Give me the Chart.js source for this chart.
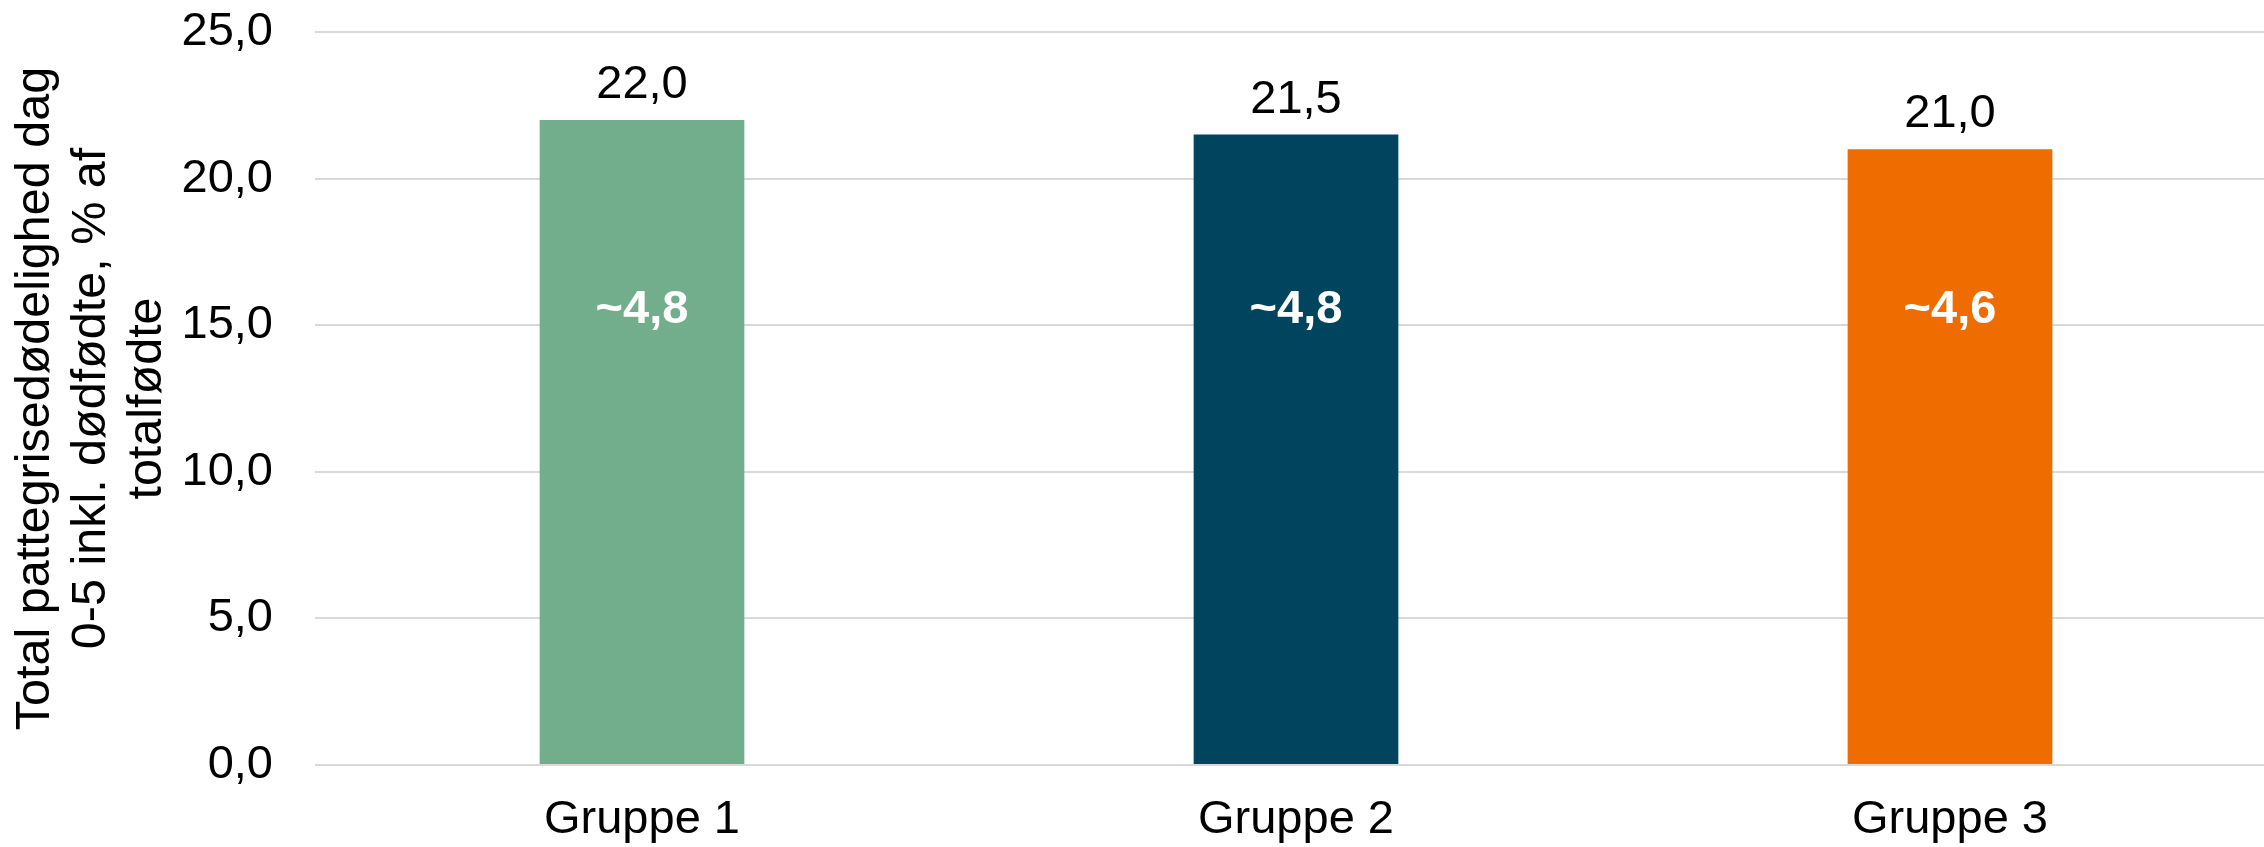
<!DOCTYPE html>
<html>
<head>
<meta charset="utf-8">
<script src="https://cdn.jsdelivr.net/npm/chart.js@4.4.1/dist/chart.umd.min.js"></script>
<style>
  html, body { margin: 0; padding: 0; background: #fff; overflow: hidden; }
  #wrap { width: 2277px; height: 847px; }
</style>
</head>
<body>
<div id="wrap"><canvas id="c" width="2277" height="847"></canvas></div>
<script>
// ---- data ----
const categories = ["Gruppe 1", "Gruppe 2", "Gruppe 3"];
const values = [22.0, 21.5, 21.0];
const innerLabels = ["~4,8", "~4,8", "~4,6"];
const innerLabelValue = 15.5;
const barColors = ["#72AE8B", "#00445E", "#EE6C00"];
const yTicks = { min: 0, max: 25, step: 5 };
const yTitle = ["Total pattegrisedødelighed dag", "0-5 inkl. dødfødte, % af", "totalfødte"];

const FONT = '"Liberation Sans", Arial, sans-serif';
const fmt = v => v.toFixed(1).replace('.', ',');

const labelPlugin = {
  id: 'barLabels',
  afterDatasetsDraw(chart) {
    const ctx = chart.ctx;
    const meta = chart.getDatasetMeta(0);
    const yScale = chart.scales.y;
    ctx.save();
    meta.data.forEach((bar, i) => {
      ctx.font = '47px ' + FONT;
      ctx.fillStyle = '#000';
      ctx.textAlign = 'center';
      ctx.textBaseline = 'alphabetic';
      ctx.fillText(fmt(values[i]), bar.x, bar.y - 22);
      ctx.font = 'bold 47px ' + FONT;
      ctx.fillStyle = '#fff';
      ctx.textBaseline = 'middle';
      ctx.fillText(innerLabels[i], bar.x, yScale.getPixelForValue(innerLabelValue));
    });
    ctx.restore();
  }
};

new Chart(document.getElementById('c'), {
  type: 'bar',
  data: {
    labels: categories,
    datasets: [{
      data: values,
      backgroundColor: barColors,
      borderWidth: 0,
      barPercentage: 0.313,
      categoryPercentage: 1.0
    }]
  },
  options: {
    responsive: false,
    animation: false,
    devicePixelRatio: 1,
    layout: { padding: { top: 32, left: 0, right: 0, bottom: 0 } },
    plugins: { legend: { display: false }, tooltip: { enabled: false } },
    scales: {
      x: {
        grid: { display: false, drawTicks: false },
        border: { display: false },
        ticks: { color: '#000', font: { family: FONT, size: 47, lineHeight: 1.2 }, padding: 27 },
        afterFit(s) { s.height = 82; }
      },
      y: {
        min: yTicks.min, max: yTicks.max,
        grid: { color: '#d9d9d9', lineWidth: 2, drawTicks: true, tickLength: 42, tickColor: 'rgba(0,0,0,0)' },
        border: { display: false },
        ticks: {
          stepSize: yTicks.step,
          color: '#000',
          font: { family: FONT, size: 47, lineHeight: 1.2 },
          padding: 0,
          callback: v => fmt(v)
        },
        title: {
          display: true,
          text: yTitle,
          color: '#000',
          font: { family: FONT, size: 48.5, lineHeight: 1.16 },
          padding: { top: 7, bottom: 0 }
        },
        afterFit(s) { s.width = 315; }
      }
    }
  },
  plugins: [labelPlugin]
});
</script>
</body>
</html>
